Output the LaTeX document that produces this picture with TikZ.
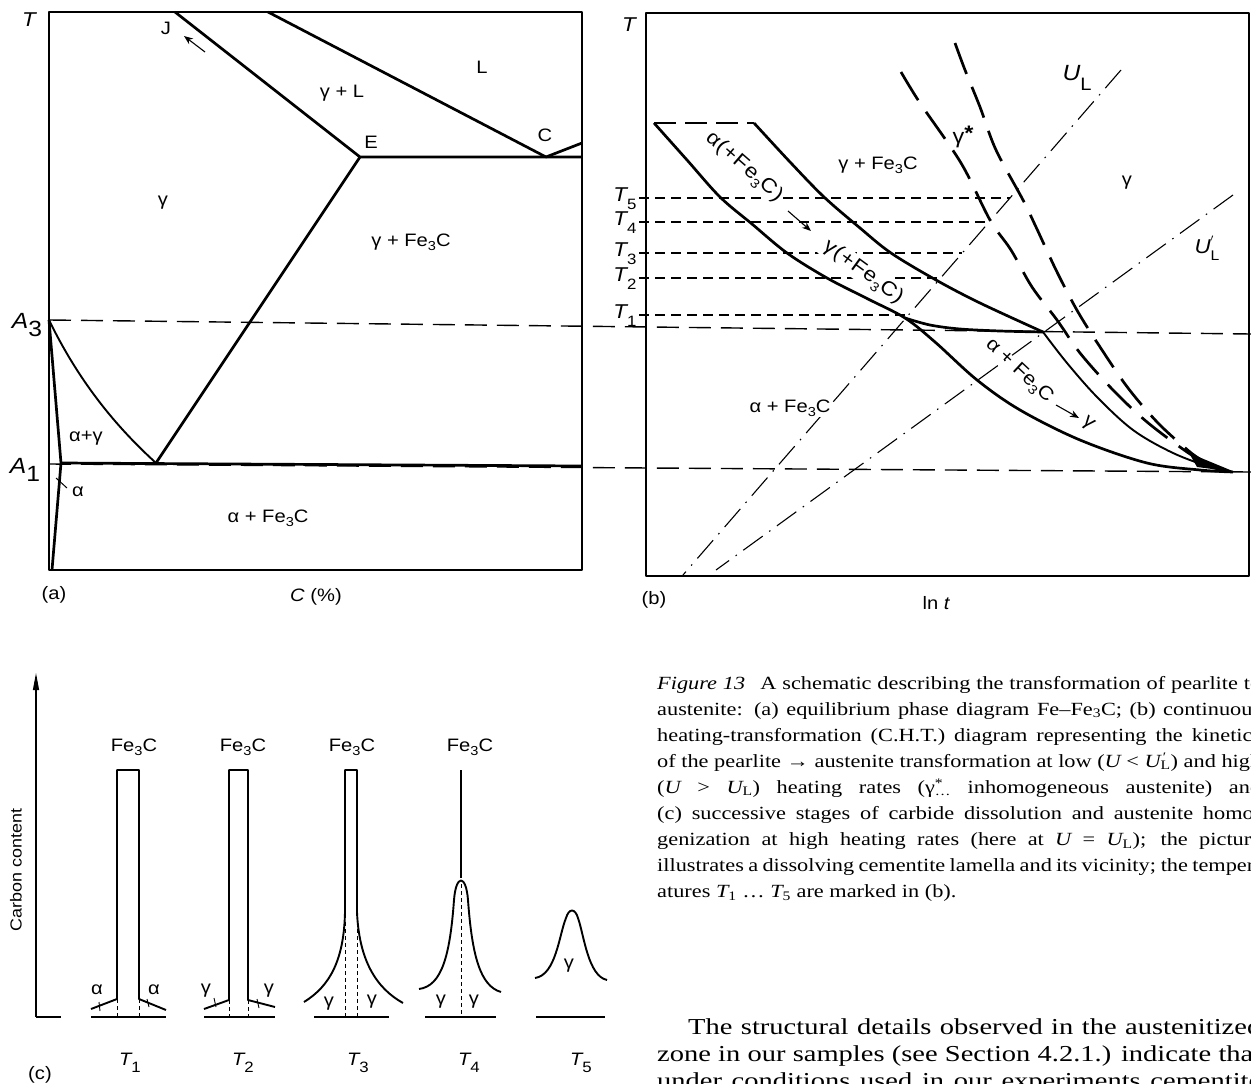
\documentclass[tikz,border=0pt]{standalone}
\usepackage{fontspec}
\setmainfont{Liberation Serif}
\newfontfamily\capfont{Liberation Serif}[FakeStretch=1.2]
\newfontfamily\bodyfont{Liberation Serif}[FakeStretch=1.25]
\newfontfamily\lett{Liberation Sans}[FakeStretch=1.12]
\usetikzlibrary{arrows.meta}
\newcommand\lsub[1]{\raisebox{-0.45ex}{\fontsize{13}{13}\selectfont #1}}
\newcommand\FeC{Fe\lsub{3}C}
\newcommand\Tsb[1]{{\itshape T}\raisebox{-0.75ex}{\fontsize{15}{15}\selectfont #1}}
\newcommand\capline[2]{\node[capl] at (657,#1) {\makebox[604pt][s]{#2}};}
\begin{document}
\begin{tikzpicture}[x=1pt,y=-1pt,line join=round,
  lab/.style={font=\lett\fontsize{18}{20}\selectfont, inner sep=0pt},
  biglab/.style={font=\lett\fontsize{22}{24}\selectfont, inner sep=0pt},
  bandlab/.style={font=\lett\fontsize{20}{22}\selectfont\addfontfeature{LetterSpace=4}, fill=white, inner sep=1.5pt},
  bnd/.style={line width=2.7pt},
  mid/.style={line width=1.9pt},
  frame/.style={line width=1.7pt},
  isol/.style={line width=1.4pt, dash pattern=on 22pt off 10pt},
  tlin/.style={line width=1.2pt, dash pattern=on 10pt off 6pt},
  ddash/.style={line width=2.7pt, dash pattern=on 33pt off 14pt},
  ddot/.style={line width=1.1pt, dash pattern=on 24pt off 8pt on 1.5pt off 8pt},
  capl/.style={anchor=base west, inner sep=0pt, font=\capfont\fontsize{18.6}{26.1}\selectfont},
  bodyl/.style={anchor=base west, inner sep=0pt, font=\bodyfont\fontsize{22.8}{28}\selectfont},
  lbl/.style={-{Stealth[length=9pt,width=7pt]}, line width=1.1pt}]
\useasboundingbox (0,0) rectangle (1251,1084);
\clip (0,0) rectangle (1251,1084);

% ---------------- panel (a)
\draw[frame] (49,12) rectangle (582,570);
\coordinate (Jt) at (175,12);
\coordinate (E) at (360,157);
\coordinate (Lt) at (268,12);
\coordinate (C) at (546,157);
\coordinate (Cr) at (582,143);
\coordinate (Er) at (582,157);
\coordinate (A3) at (49,320);
\coordinate (eut) at (156,463);
\coordinate (A1b) at (61,463);
\coordinate (abot) at (52,570);
\coordinate (A1r) at (582,466);
\draw[isol] (A3) -- (1251,334);
\draw[isol] (49,464) -- (1251,472);
\draw[bnd] (Jt) -- (E) -- (Er);
\draw[bnd] (Lt) -- (C) -- (Cr);
\draw[bnd] (E) -- (eut);
\draw[bnd] (A3) -- (A1b) -- (abot);
\draw[mid] (A3) .. controls (82,388) and (122,432) .. (eut);
\draw[bnd] (A1b) -- (A1r);
\coordinate (ja) at (205,52);
\coordinate (jb) at (184,36);
\draw[lbl] (ja) -- (jb);
\node[lab,font=\lett\fontsize{20}{22}\selectfont\itshape] (Ta) at (29,20) {T};
\node[lab] (Jl) at (166,28) {J};
\node[lab] (Ll) at (482,67) {L};
\node[lab] (gL) at (342,93) {γ + L};
\node[lab] (El) at (371,142) {E};
\node[lab] (Cl) at (545,135) {C};
\node[lab] (ga) at (163,203) {γ};
\node[lab] (gFa) at (411,242) {γ + \FeC};
\node[lab] (ag) at (86,438) {α+γ};
\node[lab] (al) at (78,492) {α};
\coordinate (alt1) at (56,478);
\coordinate (alt2) at (67,488);
\draw[line width=1pt] (alt1) -- (alt2);
\node[lab] (aF) at (268,518) {α + \FeC};
\node[biglab] (A3l) at (27,325) {{\itshape A}\raisebox{-0.7ex}{3}};
\node[biglab] (A1l) at (25,470) {{\itshape A}\raisebox{-0.7ex}{1}};
\node[lab] (pa) at (54,595) {(a)};
\node[lab] (Cx) at (316,597) {{\itshape C} (\%)};

% ---------------- panel (b)
\draw[frame] (646,13) rectangle (1249,576);
\node[lab,font=\lett\fontsize{20}{22}\selectfont\itshape] (Tb) at (629,25) {T};
% T levels
\foreach \yy/\xe/\nn in {198/1010/5, 222/990/4, 253/962/3, 278/941/2, 315/908/1}{
  \draw[tlin] (639,\yy) -- (\xe,\yy);
  \node[lab,font=\lett\fontsize{20}{22}\selectfont] at (625,\yy+1) {\Tsb{\nn}};
}
% heating-rate lines
\coordinate (UL1) at (1121,70);
\coordinate (UL2) at (683,575);
\coordinate (UP1) at (1233,195);
\coordinate (UP2) at (716,570);
\draw[ddot] (UL1) -- (UL2);
\draw[ddot] (UP1) -- (UP2);
% band labels (white knock-out over the T lines)
\node[bandlab, rotate=-41] (ba) at (744,167) {α(+\FeC)};
\node[bandlab, rotate=-36] (bg) at (863,272) {γ(+\FeC)};
\coordinate (ar1) at (788,211);
\coordinate (ar2) at (811,231);
\draw[lbl] (ar1) -- (ar2);
% top dashed segment
\draw[line width=2.7pt, dash pattern=on 22pt off 9pt] (654,123) -- (754,123);
% band curves
\draw[bnd] plot[smooth, tension=0.55] coordinates {(754,123) (790,162) (824,197) (860,228) (891,253) (936,280) (980,303) (1043,332)};
\draw[bnd] plot[smooth, tension=0.55] coordinates {(654,123) (687,160) (720,197) (752,224) (787,253) (827,278) (868,299) (905,318) (935,342) (977,380) (1020,410) (1080,440) (1147,463) (1200,470) (1233,472)};
\draw[bnd] plot[smooth, tension=0.55] coordinates {(905,318) (930,325) (960,329) (1000,331) (1043,332)};
\draw[mid] plot[smooth, tension=0.55] coordinates {(1043,332) (1067,363) (1097,397) (1133,430) (1173,453) (1213,468) (1233,472)};
% gamma* dashed lines
\draw[ddash] plot[smooth, tension=0.55] coordinates {(901,72) (920,103) (961,163) (990,220) (1011,250) (1032,287) (1057,320) (1080,353) (1113,390) (1147,422) (1187,452) (1205,462)};
\draw[ddash] plot[smooth, tension=0.55] coordinates {(955,43) (965,70) (980,107) (996,150) (1023,200) (1036,227) (1057,272) (1078,312) (1102,350) (1128,388) (1158,423) (1190,452) (1205,462)};
\fill (1235,472) -- (1189,453) -- (1197,467) -- cycle;
% labels (b)
\node[lab] (gFb) at (878,165) {γ + \FeC};
\node[lab,font=\lett\fontsize{21}{22}\selectfont] (gst) at (963,137) {γ\raisebox{0.35ex}{\textbf{*}}};
\node[lab] (gb) at (1127,183) {γ};
\node[biglab] (ULl) at (1077,78) {{\itshape U}\raisebox{-0.8ex}{\fontsize{18}{18}\selectfont L}};
\node[lab,font=\lett\fontsize{20}{22}\selectfont] (UPl) at (1207,248) {{\itshape U}\rlap{\raisebox{0.7ex}{\fontsize{14}{14}\selectfont$'$}}\raisebox{-0.6ex}{\fontsize{14}{14}\selectfont L}};
\node[lab,font=\lett\fontsize{19}{22}\selectfont, rotate=-43] (ca) at (1019,371) {α + \FeC};
\node[lab,font=\lett\fontsize{19}{22}\selectfont, rotate=-40] (cg) at (1088,424) {γ};
\coordinate (ar3) at (1056,405);
\coordinate (ar4) at (1079,418);
\draw[lbl] (ar3) -- (ar4);
\node[lab, fill=white, inner sep=1pt] (aFb) at (790,408) {α + \FeC};
\node[lab] (pb) at (654,600) {(b)};
\node[lab] (lnt) at (936,603) {ln {\itshape t}};

% ---------------- panel (c)
\coordinate (ax0) at (36,1017);
\coordinate (ax1) at (36,673);
\coordinate (ax2) at (61,1017);
\draw[line width=1.2pt, -{Triangle[length=17pt,width=6pt]}] (ax0) -- (ax1);
\draw[line width=1.2pt] (ax0) -- (ax2);
\node[lab,font=\lett\fontsize{16}{18}\selectfont, rotate=90] (cc) at (16,870) {Carbon content};
% T1
\draw[line width=1.6pt] (91,1017) -- (166,1017);
\draw[mid] (91,1009) -- (117,999) -- (117,770) -- (139,770) -- (139,999) -- (166,1010);
\draw[line width=0.8pt, dash pattern=on 4pt off 3pt] (117,999) -- (117,1017) (139,999) -- (139,1017);
\draw[line width=0.9pt] (99,1002) -- (100,1011) (147,999) -- (149,1007);
\node[lab] at (97,990) {α};
\node[lab] at (154,990) {α};
\node[lab] at (134,747) {\FeC};
\node[lab] at (130,1063) {\Tsb{1}};
% T2
\draw[line width=1.6pt] (204,1017) -- (275,1017);
\draw[mid] (204,1009) -- (229,1000) -- (229,770) -- (248,770) -- (248,1000) -- (275,1007);
\draw[line width=0.8pt, dash pattern=on 4pt off 3pt] (229,1000) -- (229,1017) (248,1000) -- (248,1017);
\draw[line width=0.9pt] (214,998) -- (216,1007) (257,999) -- (259,1008);
\node[lab] at (206,991) {γ};
\node[lab] at (269,991) {γ};
\node[lab] at (243,747) {\FeC};
\node[lab] at (243,1063) {\Tsb{2}};
% T3
\draw[line width=1.6pt] (314,1017) -- (389,1017);
\draw[mid] (304,1002) .. controls (330,986) and (344,960) .. (345,912) -- (345,770) -- (357,770) -- (357,912) .. controls (359,960) and (376,988) .. (403,1003);
\draw[line width=0.8pt, dash pattern=on 4pt off 3pt] (345,922) -- (345,1017) (357,922) -- (357,1017);
\node[lab] at (329,1004) {γ};
\node[lab] at (372,1002) {γ};
\node[lab] at (352,747) {\FeC};
\node[lab] at (358,1063) {\Tsb{3}};
% T4
\draw[line width=1.6pt] (425,1017) -- (496,1017);
\draw[line width=1.1pt] (461,770) -- (461,878);
\draw[mid] (419,989) .. controls (442,986) and (450,955) .. (454,900) .. controls (456,874) and (466,874) .. (468,900) .. controls (472,955) and (480,986) .. (501,992);
\draw[line width=0.8pt, dash pattern=on 4pt off 3pt] (461,884) -- (461,1017);
\node[lab] at (441,1002) {γ};
\node[lab] at (474,1002) {γ};
\node[lab] at (470,747) {\FeC};
\node[lab] at (469,1063) {\Tsb{4}};
% T5
\draw[line width=1.6pt] (536,1017) -- (605,1017);
\draw[mid] (535,978) .. controls (556,975) and (559,935) .. (566,918) .. controls (569,908) and (575,908) .. (578,918) .. controls (584,935) and (588,976) .. (607,980);
\node[lab] at (569,966) {γ};
\node[lab] at (581,1063) {\Tsb{5}};
\node[lab] (pc) at (40,1075) {(c)};

% ---------------- caption
\capline{689}{{\itshape Figure 13}\hspace{0.5em} A schematic describing the transformation of pearlite to}
\capline{715.1}{austenite: (a) equilibrium phase diagram Fe–Fe\textsubscript{3}C; (b) continuous}
\capline{741.2}{heating-transformation (C.H.T.) diagram representing the kinetics}
\capline{767.3}{of the pearlite → austenite transformation at low ({\itshape U} < {\itshape U}\rlap{\textsuperscript{\,′}}\textsubscript{L}) and high}
\capline{793.4}{({\itshape U} > {\itshape U}\textsubscript{L}) heating rates (γ\rlap{\textsuperscript{*}}\textsubscript{…} inhomogeneous austenite) and}
\capline{819.5}{(c) successive stages of carbide dissolution and austenite homo-}
\capline{845.6}{genization at high heating rates (here at {\itshape U} = {\itshape U}\textsubscript{L}); the picture}
\capline{871.7}{illustrates a dissolving cementite lamella and its vicinity; the temper-}
\node[capl] at (657,897.8) {atures {\itshape T}\textsubscript{1} … {\itshape T}\textsubscript{5} are marked in (b).};

% ---------------- body text
\node[bodyl] at (688,1034) {\makebox[573pt][s]{The structural details observed in the austenitized}};
\node[bodyl] at (657,1061) {\makebox[604pt][s]{zone in our samples (see Section 4.2.1.) indicate that}};
\node[bodyl] at (657,1088) {\makebox[604pt][s]{under conditions used in our experiments cementite}};
\end{tikzpicture}
\end{document}
